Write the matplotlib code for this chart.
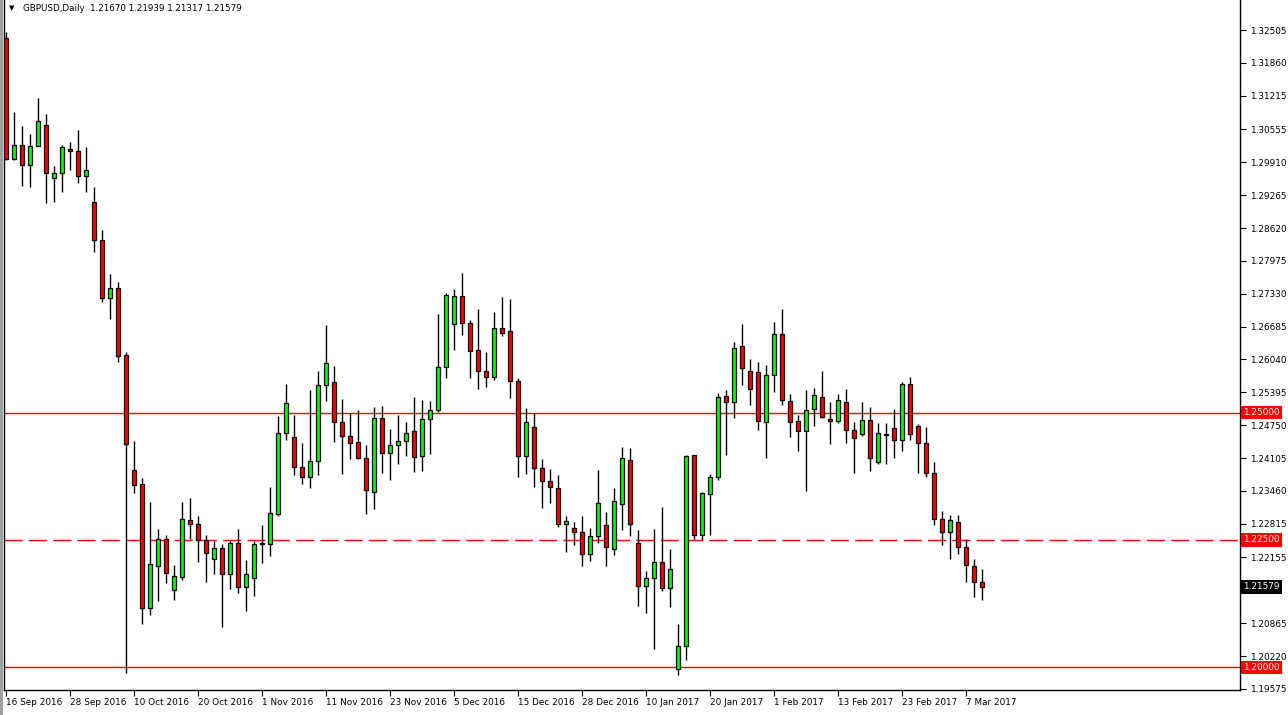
import matplotlib
matplotlib.use("Agg")
import matplotlib.pyplot as plt
import numpy as np

# GBPUSD daily candles, 16 Sep 2016 .. 9 Mar 2017
opens = [1.3235, 1.2997, 1.3025, 1.2985, 1.3023, 1.3065, 1.2961, 1.2970, 1.3018, 1.3014,
         1.2965, 1.2914, 1.2838, 1.2725, 1.2744, 1.2613, 1.2388, 1.2359, 1.2116, 1.2199,
         1.2251, 1.2152, 1.2178, 1.2290, 1.2282, 1.2249, 1.2213, 1.2235, 1.2184, 1.2243,
         1.2158, 1.2176, 1.2242, 1.2242, 1.2301, 1.2459, 1.2451, 1.2393, 1.2373, 1.2405,
         1.2553, 1.2560, 1.2482, 1.2453, 1.2442, 1.2410, 1.2344, 1.2490, 1.2421, 1.2436,
         1.2445, 1.2463, 1.2414, 1.2488, 1.2504, 1.2590, 1.2673, 1.2728, 1.2675, 1.2623,
         1.2582, 1.2570, 1.2666, 1.2659, 1.2561, 1.2414, 1.2471, 1.2391, 1.2365, 1.2352,
         1.2281, 1.2273, 1.2266, 1.2223, 1.2258, 1.2279, 1.2232, 1.2320, 1.2406, 1.2243,
         1.2159, 1.2175, 1.2206, 1.2155, 1.1996, 1.2041, 1.2416, 1.2259, 1.2341, 1.2373,
         1.2533, 1.2520, 1.2631, 1.2582, 1.2580, 1.2482, 1.2574, 1.2654, 1.2523, 1.2484,
         1.2463, 1.2506, 1.2531, 1.2488, 1.2484, 1.2521, 1.2465, 1.2457, 1.2486, 1.2402,
         1.2457, 1.2469, 1.2447, 1.2555, 1.2473, 1.2441, 1.2381, 1.2291, 1.2266, 1.2285,
         1.2236, 1.2199, 1.21670]
highs = [1.3246, 1.3090, 1.3063, 1.3046, 1.3118, 1.3085, 1.2984, 1.3024, 1.3030, 1.3055,
         1.3021, 1.2943, 1.2858, 1.2771, 1.2757, 1.2619, 1.2444, 1.2371, 1.2324, 1.2271,
         1.2259, 1.2200, 1.2324, 1.2332, 1.2296, 1.2259, 1.2247, 1.2241, 1.2248, 1.2271,
         1.2210, 1.2248, 1.2279, 1.2354, 1.2493, 1.2555, 1.2496, 1.2440, 1.2545, 1.2582,
         1.2672, 1.2592, 1.2527, 1.2499, 1.2505, 1.2436, 1.2510, 1.2512, 1.2468, 1.2495,
         1.2481, 1.2530, 1.2524, 1.2522, 1.2694, 1.2734, 1.2742, 1.2773, 1.2681, 1.2703,
         1.2619, 1.2697, 1.2727, 1.2722, 1.2568, 1.2508, 1.2500, 1.2408, 1.2389, 1.2377,
         1.2297, 1.2285, 1.2296, 1.2273, 1.2387, 1.2305, 1.2352, 1.2432, 1.2430, 1.2269,
         1.2189, 1.2271, 1.2314, 1.2232, 1.2085, 1.2416, 1.2416, 1.2344, 1.2380, 1.2538,
         1.2544, 1.2638, 1.2673, 1.2604, 1.2600, 1.2594, 1.2678, 1.2703, 1.2537, 1.2496,
         1.2545, 1.2549, 1.2581, 1.2520, 1.2537, 1.2547, 1.2481, 1.2521, 1.2510, 1.2480,
         1.2479, 1.2506, 1.2559, 1.2569, 1.2477, 1.2471, 1.2402, 1.2307, 1.2299, 1.2299,
         1.2252, 1.2213, 1.21939]
lows = [1.2995, 1.2996, 1.2944, 1.2943, 1.3022, 1.2912, 1.2913, 1.2933, 1.2976, 1.2951,
        1.2933, 1.2814, 1.2716, 1.2683, 1.2599, 1.1988, 1.2342, 1.2085, 1.2102, 1.2130,
        1.2166, 1.2132, 1.2172, 1.2252, 1.2207, 1.2168, 1.2183, 1.2079, 1.2154, 1.2146,
        1.2111, 1.2140, 1.2204, 1.2219, 1.2297, 1.2446, 1.2377, 1.2360, 1.2351, 1.2377,
        1.2523, 1.2443, 1.2379, 1.2408, 1.2408, 1.2301, 1.2310, 1.2382, 1.2368, 1.2399,
        1.2414, 1.2384, 1.2386, 1.2418, 1.2501, 1.2568, 1.2622, 1.2653, 1.2568, 1.2546,
        1.2550, 1.2564, 1.2651, 1.2529, 1.2374, 1.2380, 1.2353, 1.2312, 1.2322, 1.2275,
        1.2227, 1.2240, 1.2199, 1.2208, 1.2244, 1.2199, 1.2221, 1.2270, 1.2258, 1.2121,
        1.2106, 1.2035, 1.2150, 1.2119, 1.1984, 1.2015, 1.2252, 1.2250, 1.2259, 1.2368,
        1.2417, 1.2490, 1.2554, 1.2515, 1.2465, 1.2410, 1.2540, 1.2515, 1.2451, 1.2425,
        1.2345, 1.2473, 1.2490, 1.2439, 1.2479, 1.2441, 1.2382, 1.2453, 1.2386, 1.2399,
        1.2399, 1.2410, 1.2425, 1.2446, 1.2381, 1.2373, 1.2279, 1.2240, 1.2212, 1.2222,
        1.2168, 1.2138, 1.21317]
closes = [1.2998, 1.3025, 1.2985, 1.3023, 1.3072, 1.2969, 1.2970, 1.3020, 1.3014, 1.2965,
          1.2975, 1.2838, 1.2725, 1.2744, 1.2611, 1.2438, 1.2357, 1.2116, 1.2202, 1.2251,
          1.2185, 1.2180, 1.2292, 1.2281, 1.2249, 1.2225, 1.2235, 1.2184, 1.2243, 1.2158,
          1.2184, 1.2241, 1.2243, 1.2302, 1.2459, 1.2518, 1.2393, 1.2373, 1.2405, 1.2553,
          1.2597, 1.2482, 1.2453, 1.2440, 1.2410, 1.2348, 1.2490, 1.2421, 1.2436, 1.2445,
          1.2459, 1.2412, 1.2488, 1.2504, 1.2590, 1.2730, 1.2728, 1.2675, 1.2621, 1.2582,
          1.2570, 1.2666, 1.2656, 1.2561, 1.2414, 1.2482, 1.2391, 1.2365, 1.2354, 1.2281,
          1.2287, 1.2266, 1.2223, 1.2258, 1.2322, 1.2236, 1.2326, 1.2410, 1.2282, 1.2159,
          1.2175, 1.2206, 1.2155, 1.2192, 1.2041, 1.2414, 1.2259, 1.2342, 1.2373, 1.2531,
          1.2520, 1.2627, 1.2588, 1.2547, 1.2484, 1.2574, 1.2654, 1.2525, 1.2481, 1.2463,
          1.2504, 1.2535, 1.2492, 1.2484, 1.2525, 1.2465, 1.2449, 1.2486, 1.2410, 1.2459,
          1.2455, 1.2447, 1.2555, 1.2457, 1.2441, 1.2381, 1.2291, 1.2266, 1.2289, 1.2236,
          1.2201, 1.2168, 1.21579]

date_labels = ["16 Sep 2016", "28 Sep 2016", "10 Oct 2016", "20 Oct 2016", "1 Nov 2016",
               "11 Nov 2016", "23 Nov 2016", "5 Dec 2016", "15 Dec 2016", "28 Dec 2016",
               "10 Jan 2017", "20 Jan 2017", "1 Feb 2017", "13 Feb 2017", "23 Feb 2017",
               "7 Mar 2017"]
price_ticks = [1.32505, 1.31860, 1.31215, 1.30555, 1.29910, 1.29265, 1.28620, 1.27975,
               1.27330, 1.26685, 1.26040, 1.25395, 1.24750, 1.24105, 1.23460, 1.22815,
               1.22155, 1.20865, 1.20220, 1.19575]
levels = [1.25000, 1.22500, 1.20000]
level_styles = ["-", (0, (13, 4.5)), "-"]

o = np.array(opens); h = np.array(highs); l = np.array(lows); c = np.array(closes)
x = np.arange(len(o))
up = c >= o

fig = plt.figure(figsize=(12.88, 7.15), dpi=100)
W, H = 1288, 715
ax = fig.add_axes([4 / W, (H - 690) / H, (1240 - 4) / W, 690 / H])

# horizontal levels
for lv, ls in zip(levels, level_styles):
    ax.axhline(lv, color="#ff0000", lw=1.0, ls=ls, zorder=1)

# wicks + bodies
ax.vlines(x, l, h, color="black", lw=1.0, zorder=2)
body_lo = np.minimum(o, c)
body_h = np.maximum(np.abs(c - o), 0.00004)
ax.bar(x, body_h, bottom=body_lo, width=0.52,
       color=np.where(up, "#00ff00", "#ff0000"), edgecolor="black", lw=0.9, zorder=3)

ax.set_xlim(-0.25, 154.25)
ax.set_ylim(1.19555, 1.33094)

ax.yaxis.tick_right()
ax.set_yticks(price_ticks)
ax.set_yticklabels([f"{v:.5f}" for v in price_ticks])
ax.tick_params(axis="y", direction="out", length=4, width=0.8, labelsize=6.4, pad=3)
ax.set_xticks(np.arange(0, 8 * len(date_labels), 8))
ax.set_xticklabels(date_labels, ha="left")
ax.tick_params(axis="x", direction="out", length=4, width=0.8, labelsize=6.4, pad=2)
ax.spines["top"].set_visible(False)
for s in ["left", "right", "bottom"]:
    ax.spines[s].set_linewidth(1.0)

# price labels on the right axis
ytr = ax.get_yaxis_transform()
for lv in levels:
    ax.text(1.0025, lv, f"{lv:.5f}", transform=ytr, ha="left", va="center",
            fontsize=6.4, color="white", zorder=5, clip_on=False,
            bbox=dict(boxstyle="square,pad=0.25", fc="#ff0000", ec="none"))
ax.text(1.0025, closes[-1], f"{closes[-1]:.5f}", transform=ytr, ha="left", va="center",
        fontsize=6.4, color="white", zorder=5, clip_on=False,
        bbox=dict(boxstyle="square,pad=0.25", fc="black", ec="none"))

# header
ax.text(0.004, 0.992, "\u25bc", transform=ax.transAxes, fontsize=5, va="top", ha="left")
ax.text(0.015, 0.994,
        f"GBPUSD,Daily  {opens[-1]:.5f} {highs[-1]:.5f} {lows[-1]:.5f} {closes[-1]:.5f}",
        transform=ax.transAxes, fontsize=6.3, va="top", ha="left")

# window frame strip on the left
fig.patches.append(plt.Rectangle((0, 0), 3 / W, 1, transform=fig.transFigure,
                                 fc="#a0a0a0", ec="none"))

fig.savefig("out.png", dpi=100)
